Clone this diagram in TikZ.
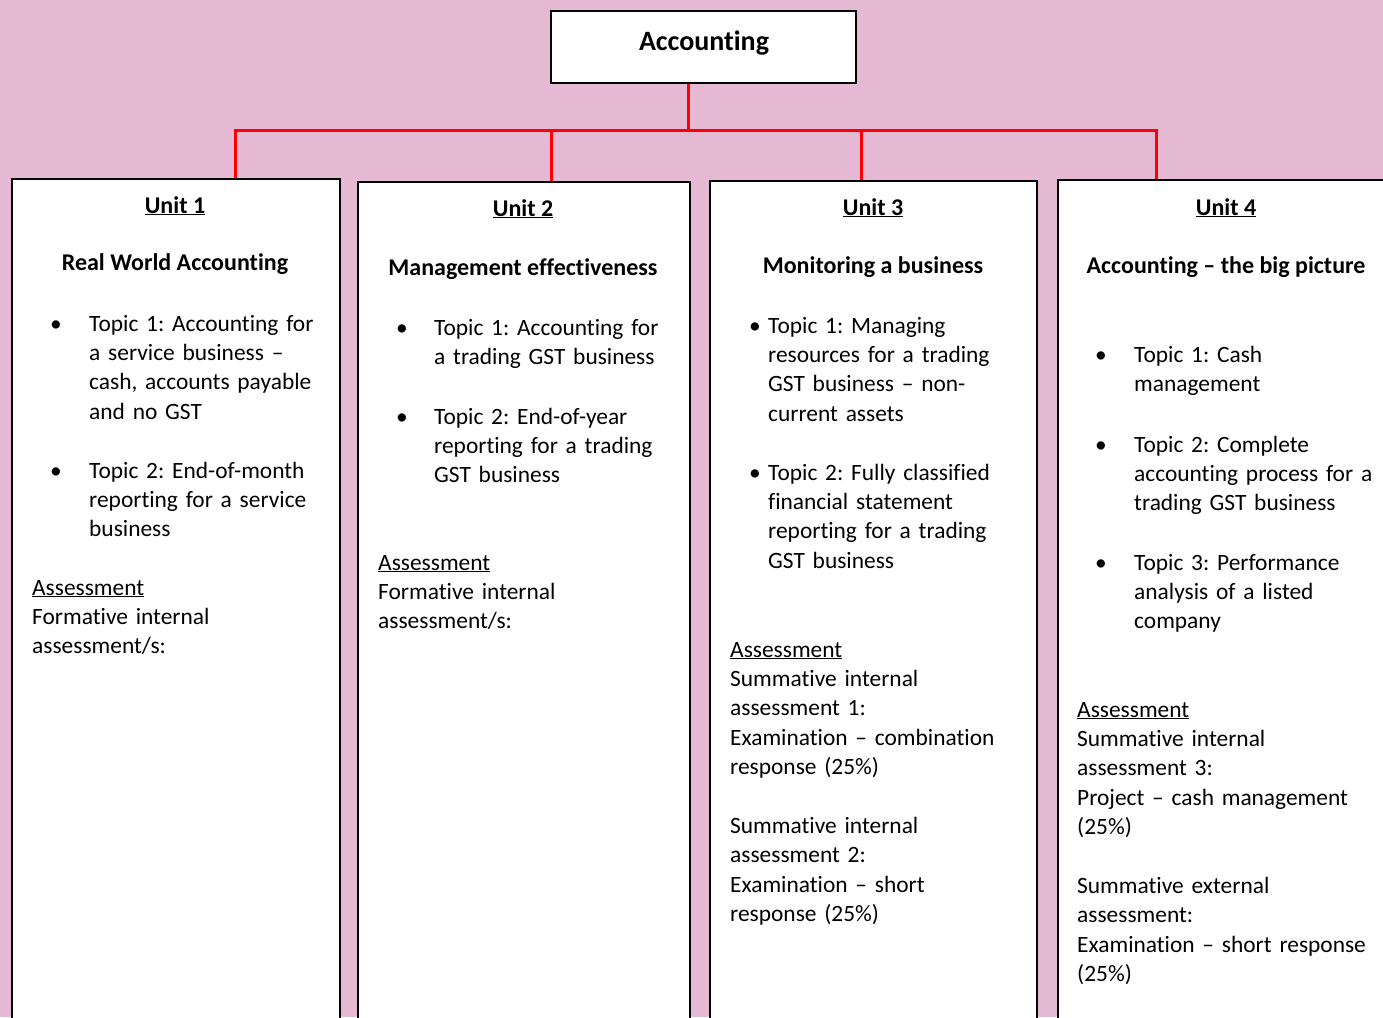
\documentclass[tikz,border=0pt]{standalone}
\usepackage{fontspec}
\setmainfont[Ligatures=CommonOff]{Carlito}
\frenchspacing
\definecolor{bgpink}{HTML}{E5B8D4}
\definecolor{linkred}{HTML}{FF0000}
\newcommand\bodyfont{\fontsize{23.4}{29.4}\selectfont\frenchspacing}
\newcommand\headfont{\fontsize{24}{29.4}\selectfont\bfseries}
\newcommand\rootfont{\fontsize{28}{32}\selectfont\bfseries}
\tikzset{
  unitbox/.style={draw=black, line width=1.8pt, fill=white, anchor=north west, inner sep=0pt},
  rootbox/.style={draw=black, line width=1.8pt, fill=white, inner sep=0pt, minimum width=305pt, minimum height=72pt, font=\rootfont},
  link/.style={draw=linkred, line width=3pt},
  head/.style={font=\headfont, anchor=base, inner sep=0pt},
  body/.style={font=\bodyfont, anchor=base west, inner sep=0pt, text width=320pt, align=left},
  dot/.style={font=\bodyfont, anchor=base, inner sep=0pt},
}
\begin{document}
\begin{tikzpicture}[x=1pt,y=-1pt]
\useasboundingbox (0,0) rectangle (1383,1017);
\fill[bgpink] (0,0) rectangle (1383,1017);
\begin{scope}
\clip (0,0) rectangle (1383,1017);
% root
\node[rootbox] (root) at (703.5,47) {};
\node[font=\rootfont, anchor=base, inner sep=0pt] (roottxt) at (704,50) {Accounting};
% unit boxes
\node[unitbox, minimum width=328pt, minimum height=860pt] (u1) at (11,178) {};
\node[unitbox, minimum width=332pt, minimum height=860pt] (u2) at (357,181) {};
\node[unitbox, minimum width=327pt, minimum height=860pt] (u3) at (709,180) {};
\node[unitbox, minimum width=340pt, minimum height=860pt] (u4) at (1057,179) {};
% connectors
\coordinate (bus) at (688,130);
\coordinate (j1) at (235,130);
\coordinate (j2) at (551,130);
\coordinate (j3) at (861,130);
\coordinate (j4) at (1156,130);
\draw[link] (root.south -| bus) -- (bus);
\draw[link, line cap=rect] (j1) -- (j4);
\draw[link] (j1) -- (j1 |- u1.north);
\draw[link] (j2) -- (j2 |- u2.north);
\draw[link] (j3) -- (j3 |- u3.north);
\draw[link] (j4) -- (j4 |- u4.north);
\end{scope}

% Unit 1
\node[head] (u1t) at (175,213) {\underline{Unit 1}};
\node[head] (u1s) at (175,270) {Real World Accounting};
\node[dot] (u1d1) at (56,331) {•};
\node[body] (u1b1) at (89,331) {Topic 1: Accounting for\\a service business –\\cash, accounts payable\\and no GST};
\node[dot] (u1d2) at (56,478) {•};
\node[body] (u1b2) at (89,478) {Topic 2: End-of-month\\reporting for a service\\business};
\node[body] (u1a) at (32,595) {\underline{Assessment}\\Formative internal\\assessment/s:};

% Unit 2
\node[head] (u2t) at (523,216) {\underline{Unit 2}};
\node[head] (u2s) at (523,275) {Management effectiveness};
\node[dot] (u2d1) at (402,335) {•};
\node[body] (u2b1) at (434,335) {Topic 1: Accounting for\\a trading GST business};
\node[dot] (u2d2) at (402,424) {•};
\node[body] (u2b2) at (434,424) {Topic 2: End-of-year\\reporting for a trading\\GST business};
\node[body] (u2a) at (378,570) {\underline{Assessment}\\Formative internal\\assessment/s:};

% Unit 3
\node[head] (u3t) at (873,215) {\underline{Unit 3}};
\node[head] (u3s) at (873,273) {Monitoring a business};
\node[dot] (u3d1) at (755,333) {•};
\node[body] (u3b1) at (768,333) {Topic 1: Managing\\resources for a trading\\GST business – non-\\current assets};
\node[dot] (u3d2) at (755,480) {•};
\node[body] (u3b2) at (768,480) {Topic 2: Fully classified\\financial statement\\reporting for a trading\\GST business};
\node[body] (u3a) at (730,657) {\underline{Assessment}\\Summative internal\\assessment 1:\\Examination – combination\\response (25\%)\\[29.4pt]Summative internal\\assessment 2:\\Examination – short\\response (25\%)};

% Unit 4
\node[head] (u4t) at (1226,215) {\underline{Unit 4}};
\node[head] (u4s) at (1226,273) {Accounting – the big picture};
\node[dot] (u4d1) at (1101,362) {•};
\node[body] (u4b1) at (1134,362) {Topic 1: Cash\\management};
\node[dot] (u4d2) at (1101,452) {•};
\node[body] (u4b2) at (1134,452) {Topic 2: Complete\\accounting process for a\\trading GST business};
\node[dot] (u4d3) at (1101,570) {•};
\node[body] (u4b3) at (1134,570) {Topic 3: Performance\\analysis of a listed\\company};
\node[body] (u4a) at (1077,717) {\underline{Assessment}\\Summative internal\\assessment 3:\\Project – cash management\\(25\%)\\[29.4pt]Summative external\\assessment:\\Examination – short response\\(25\%)};
\end{tikzpicture}
\end{document}
